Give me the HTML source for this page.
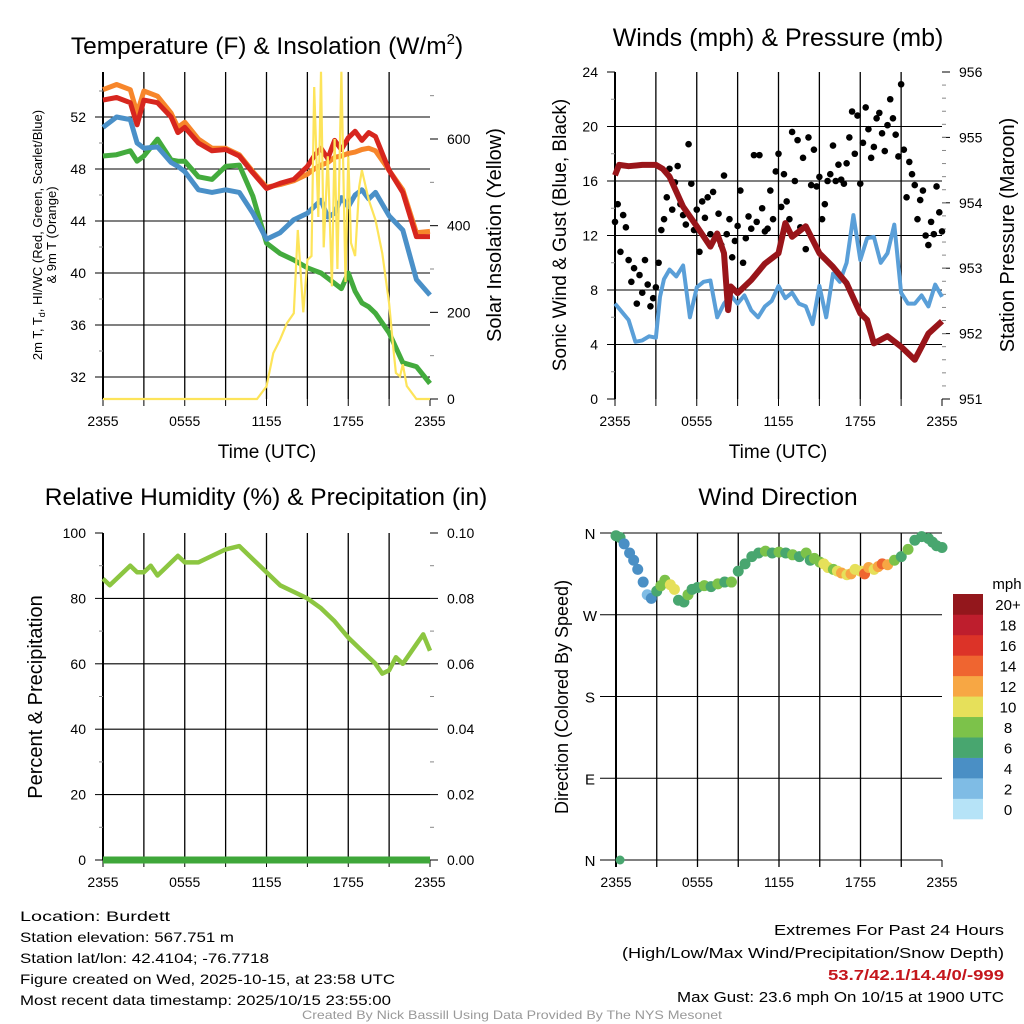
<!DOCTYPE html>
<html><head><meta charset="utf-8"><style>
html,body{margin:0;padding:0;background:#fff;}
svg{display:block;font-family:"Liberation Sans",sans-serif;}
</style></head><body>
<svg id="fig" width="1024" height="1024" viewBox="0 0 1024 1024" xmlns="http://www.w3.org/2000/svg">
<rect width="1024" height="1024" fill="#fff"/>
<g id="root"></g>
<!-- titles -->
<text x="267" y="54" font-size="24.5" text-anchor="middle">Temperature (F) &amp; Insolation (W/m<tspan font-size="15" dy="-10">2</tspan><tspan dy="10">)</tspan></text>
<text x="778" y="46" font-size="25" text-anchor="middle">Winds (mph) &amp; Pressure (mb)</text>
<text x="266" y="505" font-size="24.5" text-anchor="middle">Relative Humidity (%) &amp; Precipitation (in)</text>
<text x="778" y="505" font-size="24.5" text-anchor="middle">Wind Direction</text>
<!-- axis titles -->
<text x="267" y="458" font-size="19" text-anchor="middle">Time (UTC)</text>
<text x="778" y="458" font-size="19" text-anchor="middle">Time (UTC)</text>
<text transform="translate(42,235) rotate(-90)" font-size="13" text-anchor="middle">2m T, T<tspan font-size="9" dy="3">d</tspan><tspan dy="-3">, HI/WC (Red, Green, Scarlet/Blue)</tspan></text>
<text transform="translate(56,235) rotate(-90)" font-size="13" text-anchor="middle">&amp; 9m T (Orange)</text>
<text transform="translate(501,235) rotate(-90)" font-size="20" text-anchor="middle">Solar Insolation (Yellow)</text>
<text transform="translate(566,235) rotate(-90)" font-size="19" text-anchor="middle">Sonic Wind &amp; Gust (Blue, Black)</text>
<text transform="translate(1014,235) rotate(-90)" font-size="20" text-anchor="middle">Station Pressure (Maroon)</text>
<text transform="translate(42,697) rotate(-90)" font-size="20" text-anchor="middle">Percent &amp; Precipitation</text>
<text transform="translate(568,697) rotate(-90)" font-size="18" text-anchor="middle">Direction (Colored By Speed)</text>
<text x="1007" y="589" font-size="15" text-anchor="middle">mph</text>
<!-- footer -->
<g font-size="14">
<text x="20" y="921" textLength="150" lengthAdjust="spacingAndGlyphs">Location: Burdett</text>
<text x="20" y="942" textLength="214" lengthAdjust="spacingAndGlyphs">Station elevation: 567.751 m</text>
<text x="20" y="963" textLength="249" lengthAdjust="spacingAndGlyphs">Station lat/lon: 42.4104; -76.7718</text>
<text x="20" y="984" textLength="375" lengthAdjust="spacingAndGlyphs">Figure created on Wed, 2025-10-15, at 23:58 UTC</text>
<text x="20" y="1005" textLength="371" lengthAdjust="spacingAndGlyphs">Most recent data timestamp: 2025/10/15 23:55:00</text>
</g>
<g font-size="15" text-anchor="end">
<text x="1004" y="935" textLength="230" lengthAdjust="spacingAndGlyphs">Extremes For Past 24 Hours</text>
<text x="1004" y="958" textLength="382" lengthAdjust="spacingAndGlyphs">(High/Low/Max Wind/Precipitation/Snow Depth)</text>
<text x="1004" y="980" fill="#c4161c" font-weight="bold" textLength="176" lengthAdjust="spacingAndGlyphs">53.7/42.1/14.4/0/-999</text>
<text x="1004" y="1002" textLength="327" lengthAdjust="spacingAndGlyphs">Max Gust: 23.6 mph On 10/15 at 1900 UTC</text>
</g>
<text x="512" y="1019" font-size="12" fill="#999" text-anchor="middle" textLength="420" lengthAdjust="spacingAndGlyphs">Created By Nick Bassill Using Data Provided By The NYS Mesonet</text>
</svg>
<script>
// ---- data (hours since 2355 UTC) ----
const tempHours=[0,1,2,2.5,3,4,5,5.5,6,7,8,9,10,11,12,13,14,15,15.5,16,16.5,17,17.5,18,18.5,19,19.5,20,21,22,23,24];
const tempRed=[53.3,53.5,53.1,51.4,53.3,53.1,52.0,50.8,51.2,50.0,49.4,49.5,49.0,47.7,46.5,46.9,47.2,48.2,49.0,49.6,48.8,50.2,49.5,50.4,50.9,50.2,50.8,50.5,47.9,46.2,42.8,42.8];
const tempOrange=[54.1,54.5,54.1,52.3,54.0,53.6,52.3,51.2,51.6,50.3,49.6,49.6,49.1,47.8,46.6,46.8,47.1,47.6,48.0,48.3,48.5,48.9,49.0,49.2,49.3,49.5,49.6,49.4,47.9,46.4,43.1,43.2];
const tempBlue=[51.2,52.0,51.8,50.0,49.6,49.7,48.5,48.2,47.8,46.4,46.2,46.4,46.2,44.6,42.6,43.1,44.1,44.6,45.1,45.6,44.3,44.6,45.8,45.1,46.0,46.4,45.7,46.2,44.4,43.3,39.5,38.3];
const tempGreen=[49.0,49.1,49.4,48.6,49.0,50.3,48.7,48.6,48.6,47.4,47.2,48.2,48.3,45.9,42.3,41.5,41.0,40.4,40.2,40.0,39.6,39.2,38.8,40.0,38.6,37.7,37.4,36.9,35.4,33.1,32.8,31.5];
const solarHours=[0,11.3,12,12.5,13,13.5,14,14.3,14.7,15,15.3,15.5,15.8,16,16.2,16.5,16.8,17,17.2,17.5,17.8,18,18.2,18.5,18.8,19,19.5,20,20.5,21,21.3,21.5,21.8,22,22.3,23,24];
const solarVals=[0,0,29,106,137,175,198,390,200,321,330,720,420,755,350,560,260,600,300,755,270,560,360,330,490,528,460,413,336,221,120,60,52,80,30,0,0];
const pressHours=[0,0.3,1,2,3,3.5,4,5,6,7,7.5,8,8.3,8.5,9,10,11,12,12.5,13,14,15,16,17,18,18.5,19,20,21,22,22.5,23,24];
const pressVals=[954.42,954.58,954.56,954.58,954.58,954.52,954.40,953.94,953.64,953.33,953.53,953.23,952.36,952.72,952.62,952.82,953.07,953.23,953.69,953.48,953.64,953.23,953.02,952.77,952.31,952.21,951.85,951.96,951.80,951.60,951.80,952.00,952.19];
const windHours=[0,0.5,1,1.5,2,2.5,3,3.3,3.6,4,4.5,5,5.5,6,6.5,7,7.5,8,8.5,9,9.5,10,10.5,11,11.5,12,12.5,13,13.5,14,14.5,15,15.5,16,16.5,17,17.5,18,18.5,19,19.5,20,20.5,21,21.5,22,22.5,23,23.5,24];
const windVals=[7.0,6.4,5.8,4.2,4.3,4.6,4.5,7.5,8.8,9.5,9.0,9.8,6.0,8.2,8.6,8.7,6.0,7.0,7.6,7.0,7.6,6.5,6.0,6.8,7.2,8.3,7.4,7.8,7.0,6.8,5.5,8.3,6.0,9.2,8.6,10.0,13.5,10.2,11.8,11.9,10.0,10.7,12.8,7.8,7.0,7.0,7.6,6.8,8.4,7.5];
const gustVals=[13.0,14.3,10.8,13.5,12.6,10.2,8.6,9.6,7.0,9.1,7.8,10.2,8.4,6.8,7.4,8.2,10.0,12.4,13.2,14.8,16.9,13.9,15.9,17.1,14.3,13.5,12.8,18.7,15.8,12.4,13.9,10.8,14.5,13.3,14.8,12.1,15.2,11.9,13.6,11.3,16.4,12.1,13.2,10.4,11.6,12.7,15.3,10.0,11.8,13.4,12.5,17.9,13.0,17.9,14.0,12.3,12.5,15.3,13.2,16.7,18.0,14.1,16.5,14.5,13.2,19.6,16.0,19.0,12.6,17.7,11.0,19.2,15.7,18.3,15.6,16.3,13.2,14.3,16.0,16.5,18.6,16.0,17.2,16.1,15.8,17.3,19.2,21.1,18.0,20.8,15.8,18.8,21.4,19.8,17.7,18.5,20.6,21.0,19.5,18.2,20.1,22.0,20.6,19.4,17.8,23.1,18.3,14.8,17.4,16.5,15.7,13.2,14.6,15.3,12.0,11.3,13.0,12.1,15.6,13.7,12.3];
const rhHours=[0,0.5,1,1.5,2,2.5,3,3.5,4,4.5,5,5.5,6,7,8,9,10,11,12,13,14,15,16,17,18,19,20,20.5,21,21.5,22,23,23.5,24];
const rhVals=[86,84,86,88,90,88,88,90,87,89,91,93,91,91,93,95,96,92,88,84,82,80,77,73,68,64,60,57,58,62,60,66,69,64];
const precipVals=[0,0,0,0,0,0,0,0,0,0,0,0,0,0,0,0,0,0,0,0,0,0,0,0,0];
const dirHours=[0,0.3,0.6,1,1.3,1.6,2,2.3,2.6,3,3.3,3.6,4,4.3,4.6,5,5.3,5.6,6,6.5,7,7.5,8,8.5,9,9.5,10,10.5,11,11.5,12,12.5,13,13.5,14,14.3,14.6,15,15.3,15.6,16,16.3,16.6,17,17.3,17.6,18,18.3,18.6,19,19.3,19.6,20,20.5,21,21.5,22,22.5,23,23.3,23.6,24];
const dirVals=[357,355,348,338,330,320,306,292,288,296,302,308,303,298,286,284,292,298,300,302,301,304,306,306,318,326,334,338,340,338,339,338,336,334,338,330,332,328,326,322,320,318,316,314,315,320,318,315,322,320,323,326,325,330,334,342,352,356,354,350,346,344];
const dirSpeeds=[6,6,5,4,4,4,4,3,4,7,8,9,10,10,7,7,8,6,7,8,7,9,7,8,6,7,7,6,8,7,8,7,8,7,8,6,9,8,10,10,9,11,12,10,13,11,10,14,12,11,13,15,12,9,7,8,6,6,6,7,7,7];
const speedColors=["#b6e3f7","#7fbce5","#4a8fc5","#48a66f","#7cc24a","#e6e05a","#f7a744","#ef6530","#dc3328","#be1e2d","#93171c"];
const speedLabels=["0","2","4","6","8","10","12","14","16","18","20+"];
const xTickLabels=["2355","0555","1155","1755","2355"];

const NS="http://www.w3.org/2000/svg";
const root=document.getElementById('root');
function mk(tag,attrs,parent){const e=document.createElementNS(NS,tag);for(const k in attrs)e.setAttribute(k,attrs[k]);(parent||root).appendChild(e);return e;}
function lin(d0,d1,r0,r1){return v=>r0+(v-d0)*(r1-r0)/(d1-d0);}
function txt(x,y,s,anchor,size,parent){const t=mk('text',{x:x,y:y,'font-size':size,'text-anchor':anchor},parent);t.textContent=s;return t;}

function frame(g,L,R,T,B,xs,leftTicks,leftFmt,leftMinor,yl,rightTicks,rightMinor,yr,rightFmt){
  for(let h=3;h<24;h+=3){const x=xs(h);mk('line',{x1:x,x2:x,y1:T,y2:B,stroke:'#000','stroke-width':1.3},g);}
  leftTicks.forEach(v=>{const y=yl(v);if(y>T+1&&y<B-1)mk('line',{x1:L,x2:R,y1:y,y2:y,stroke:'#000','stroke-width':1.1},g);});
  mk('line',{x1:L,x2:L,y1:T,y2:B,stroke:'#000','stroke-width':2},g);
  leftTicks.forEach(v=>{const y=yl(v);mk('line',{x1:L-8,x2:L,y1:y,y2:y,stroke:'#000'},g);txt(L-17,y+5,leftFmt(v),'end',14,g);});
  leftMinor.forEach(v=>{const y=yl(v);mk('line',{x1:L-4,x2:L,y1:y,y2:y,stroke:'#888'},g);});
  if(rightTicks){rightTicks.forEach(v=>{const y=yr(v);mk('line',{x1:R,x2:R+8,y1:y,y2:y,stroke:'#000'},g);txt(R+17,y+5,rightFmt(v),'start',14,g);});
    rightMinor.forEach(v=>{const y=yr(v);mk('line',{x1:R,x2:R+4,y1:y,y2:y,stroke:'#888'},g);});}
  for(let h=0;h<=24;h+=3){const x=xs(h);mk('line',{x1:x,x2:x,y1:B,y2:B+7,stroke:'#000'},g);}
  xTickLabels.forEach((s,i)=>txt(xs(i*6),B+27,s,'middle',14,g));
}
function path(xs,ys,X,Y){return X.map((h,i)=>(i?'L':'M')+xs(h).toFixed(1)+','+ys(Y[i]).toFixed(1)).join('');}
function range(a,b,s){const r=[];for(let v=a;v<=b+1e-9;v+=s)r.push(+v.toFixed(4));return r;}

// ---- Panel 1: temperature ----
(function(){
  const L=103,R=430,T=72,B=399;const xs=lin(0,24,L,R);
  const yt=lin(32,52,377,117);const ys=lin(0,600,399,139);
  const g=mk('g',{});
  frame(g,L,R,T,B,xs,[32,36,40,44,48,52],v=>v,[34,38,42,46,50,54],yt,[0,200,400,600],[100,300,500,700],ys,v=>v);
  const lines=[[tempGreen,'#43ab3d','temp-dewpoint-line'],[tempBlue,'#4a90c8','temp-windchill-line'],[tempOrange,'#f7862b','temp-9m-line'],[tempRed,'#d7261e','temp-2m-line']];
  lines.forEach(([d,c,n])=>{const p=mk('path',{d:path(xs,yt,tempHours,d),fill:'none',stroke:c,'stroke-width':5,'stroke-linejoin':'round'},g);});
  const s=mk('path',{d:path(xs,ys,solarHours,solarVals),fill:'none',stroke:'#fde45a','stroke-width':2.2},g);
  
})();

// ---- Panel 2: winds ----
(function(){
  const L=615,R=942,T=72,B=399;const xs=lin(0,24,L,R);
  const yw=lin(0,24,399,72);const yp=lin(951,956,399,72);
  const g=mk('g',{});
  frame(g,L,R,T,B,xs,[0,4,8,12,16,20,24],v=>v,[2,6,10,14,18,22],yw,[951,952,953,954,955,956],range(951.2,955.8,0.2),yp,v=>v);
  const b=mk('path',{d:path(xs,yw,windHours,windVals),fill:'none',stroke:'#5a9fd8','stroke-width':4,'stroke-linejoin':'round'},g);
  
  gustVals.forEach((v,i)=>{const c=mk('circle',{cx:xs(i*24/(gustVals.length-1)),cy:yw(v),r:3.3,fill:'#000'},g);});
  const p=mk('path',{d:path(xs,yp,pressHours,pressVals),fill:'none',stroke:'#99151a','stroke-width':6,'stroke-linejoin':'round'},g);
  
})();

// ---- Panel 3: humidity ----
(function(){
  const L=103,R=430,T=533,B=860;const xs=lin(0,24,L,R);
  const yh=lin(0,100,860,533);const yq=lin(0,0.1,860,533);
  const g=mk('g',{});
  frame(g,L,R,T,B,xs,[0,20,40,60,80,100],v=>v,[10,30,50,70,90],yh,[0,0.02,0.04,0.06,0.08,0.1],[0.01,0.03,0.05,0.07,0.09],yq,v=>v.toFixed(2));
  const r=mk('path',{d:path(xs,yh,rhHours,rhVals),fill:'none',stroke:'#8cc641','stroke-width':4.5,'stroke-linejoin':'round'},g);
  
  const q=mk('path',{d:path(xs,yq,precipVals.map((v,i)=>i),precipVals),fill:'none',stroke:'#3fa73a','stroke-width':7},g);
  
})();

// ---- Panel 4: wind direction ----
(function(){
  const L=616,R=942,T=533,B=860;const xs=lin(0,24,L,R);
  const yd=lin(0,360,860,533);
  const g=mk('g',{});
  for(let h=3;h<24;h+=3){const x=xs(h);mk('line',{x1:x,x2:x,y1:T,y2:B+7,stroke:'#000','stroke-width':1.3},g);}
  const dl=['N','E','S','W','N'];
  [0,90,180,270,360].forEach((v,i)=>{const y=yd(v);mk('line',{x1:L-16,x2:R,y1:y,y2:y,stroke:'#000','stroke-width':1.1},g);txt(L-26,y+6,dl[i],'middle',15,g);});
  mk('line',{x1:L,x2:L,y1:T,y2:B+7,stroke:'#000','stroke-width':2},g);
  mk('line',{x1:R,x2:R,y1:B,y2:B+7,stroke:'#000'},g);
  xTickLabels.forEach((s,i)=>txt(xs(i*6),B+27,s,'middle',14,g));
  const zero=mk('circle',{cx:xs(0.3),cy:yd(0),r:4.5,fill:speedColors[3]},g);
  
  dirVals.forEach((v,i)=>{const k=Math.min(10,Math.floor(dirSpeeds[i]/2));
    const c=mk('circle',{cx:xs(dirHours[i]),cy:yd(v),r:5.5,fill:speedColors[k]},g);
    });
  const cb=mk('g',{});
  const h=(819-594)/speedColors.length;
  speedColors.forEach((c,i)=>{const y=819-(i+1)*h;mk('rect',{x:953,y:y,width:30,height:h+0.3,fill:c},cb);txt(1008,y+h/2+6,speedLabels[i],'middle',15,cb);});
})();
</script>
</body></html>
